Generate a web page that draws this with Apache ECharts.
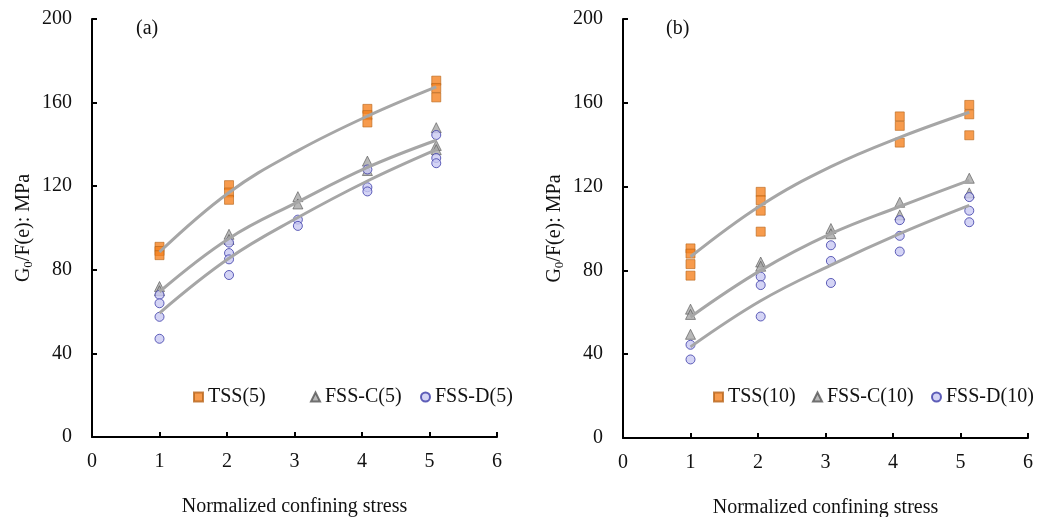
<!DOCTYPE html>
<html><head><meta charset="utf-8">
<script src="https://cdn.jsdelivr.net/npm/echarts@6/dist/echarts.min.js"></script>
<style>html,body{margin:0;padding:0;background:#fff}#c{width:1037px;height:517px}</style>
</head><body><div id="c"></div>
<script>
// x positions of each confining-stress group
const xA = [1, 2.03, 3.05, 4.08, 5.1];
const xB = [1, 2.04, 3.08, 4.1, 5.13];
// measured values per group (panel a)
const tss5 = [[91, 89, 87], [120.5, 117, 113.5], [], [157, 154, 150.5], [170.5, 167, 162.5]];
const fssC5 = [[72, 70], [97, 94.5], [115, 111.5], [132, 127.5], [148, 139.5, 137.5]];
const fssD5 = [[68, 64, 57.5, 47], [93, 88, 85, 77.5], [104, 101], [128, 119.5, 117.5], [144.5, 133.5, 131]];
// measured values per group (panel b)
const tss10 = [[90.5, 88, 83, 77.5], [117.5, 113.5, 108.5, 98.5], [], [153.5, 149, 141], [159, 154.5, 144.5]];
const fssC10 = [[61.5, 59, 49.5], [84, 82], [100, 97.5], [112.5, 106.5], [124, 117]];
const fssD10 = [[44.5, 37.5], [77, 73, 58], [92, 84.5, 74], [104, 96.5, 89], [115, 108.5, 103]];
// trend curves
const fitTss5 = [88.5, 117, 137, 153.5, 167.5];
const fitC5 = [69.5, 95, 112.5, 129, 142];
const fitD5 = [59.3, 85.5, 105, 122.5, 137.5];
const fitTss10 = [86.5, 111, 129.5, 143.5, 155.5];
const fitC10 = [57.8, 80, 97.5, 110.5, 123];
const fitD10 = [43.5, 65.5, 82.5, 97.5, 111];

function pts(xs, groups) {
  const out = [];
  groups.forEach((g, i) => g.forEach(v => out.push([xs[i], v])));
  return out;
}
function line(xs, ys) { return xs.map((x, i) => [x, ys[i]]); }

const font = 'Liberation Serif, Times New Roman, serif';
const fs = 20;
const sq = { color: '#F58220', borderColor: '#B8651B', borderWidth: 0.8 };
const tri = { color: '#A6A6A6', borderColor: '#555', borderWidth: 0.8 };
const cir = { color: '#C9C9F2', borderColor: '#3A3AA8', borderWidth: 1 };

function xAx(gi) {
  return {
    gridIndex: gi, type: 'value', min: 0, max: 6, interval: 1,
    name: 'Normalized confining stress', nameLocation: 'middle', nameGap: 60,
    nameTextStyle: { fontFamily: font, fontSize: fs, color: '#111' },
    axisLine: { lineStyle: { color: '#000', width: 2 } },
    axisTick: { inside: true, length: 5, lineStyle: { color: '#000', width: 2 } },
    axisLabel: { fontFamily: font, fontSize: fs, color: '#111', margin: 15 },
    splitLine: { show: false }
  };
}
function yAx(gi) {
  return {
    gridIndex: gi, type: 'value', min: 0, max: 200, interval: 40,
    name: 'G{s|0}/F(e): MPa', nameLocation: 'middle', nameGap: 57,
    nameTextStyle: { fontFamily: font, fontSize: fs, color: '#111',
      rich: { s: { fontFamily: font, fontSize: 13, color: '#111', verticalAlign: 'bottom', padding: [9, 0, 0, 0] } } },
    axisLine: { show: true, lineStyle: { color: '#000', width: 2 } },
    axisTick: { show: true, inside: true, length: 5, lineStyle: { color: '#000', width: 2 } },
    axisLabel: { fontFamily: font, fontSize: fs, color: '#111', margin: 20 },
    splitLine: { show: false }
  };
}
function scat(name, gi, data, sym, style, size) {
  return { name, type: 'scatter', xAxisIndex: gi, yAxisIndex: gi, data, symbol: sym,
    symbolSize: size, itemStyle: style, z: 2 };
}
function curve(gi, data) {
  return { type: 'line', xAxisIndex: gi, yAxisIndex: gi, data, smooth: 0.4, showSymbol: false,
    lineStyle: { color: '#A6A6A6', width: 3 }, z: 3, silent: true };
}
const legText = { fontFamily: font, fontSize: fs, color: '#111' };
function leg(name, icon, left) {
  return { left: left, top: 387, itemWidth: 9, itemHeight: 9, padding: 0, textStyle: legText,
    data: [{ name: name, icon: icon }] };
}

const chart = echarts.init(document.getElementById('c'));
chart.setOption({
  animation: false,
  grid: [
    { left: 92, top: 19, width: 405, height: 418, containLabel: false, outerBoundsMode: 'none' },
    { left: 623, top: 19, width: 405, height: 419, containLabel: false, outerBoundsMode: 'none' }
  ],
  xAxis: [xAx(0), xAx(1)],
  yAxis: [yAx(0), yAx(1)],
  legend: [
    leg('TSS(5)', 'rect', 193), leg('FSS-C(5)', 'triangle', 310), leg('FSS-D(5)', 'circle', 420),
    leg('TSS(10)', 'rect', 713), leg('FSS-C(10)', 'triangle', 812), leg('FSS-D(10)', 'circle', 931)
  ],
  graphic: [
    { type: 'text', left: 136, top: 19, style: { text: '(a)', font: fs + 'px ' + font, fill: '#111' } },
    { type: 'text', left: 666, top: 19, style: { text: '(b)', font: fs + 'px ' + font, fill: '#111' } }
  ],
  series: [
    scat('TSS(5)', 0, pts(xA, tss5), 'rect', sq, 9),
    scat('FSS-C(5)', 0, pts(xA, fssC5), 'triangle', tri, 10),
    scat('FSS-D(5)', 0, pts(xA, fssD5), 'circle', cir, 9),
    curve(0, line(xA, fitTss5)), curve(0, line(xA, fitC5)), curve(0, line(xA, fitD5)),
    scat('TSS(10)', 1, pts(xB, tss10), 'rect', sq, 9),
    scat('FSS-C(10)', 1, pts(xB, fssC10), 'triangle', tri, 10),
    scat('FSS-D(10)', 1, pts(xB, fssD10), 'circle', cir, 9),
    curve(1, line(xB, fitTss10)), curve(1, line(xB, fitC10)), curve(1, line(xB, fitD10))
  ]
});
</script></body></html>
